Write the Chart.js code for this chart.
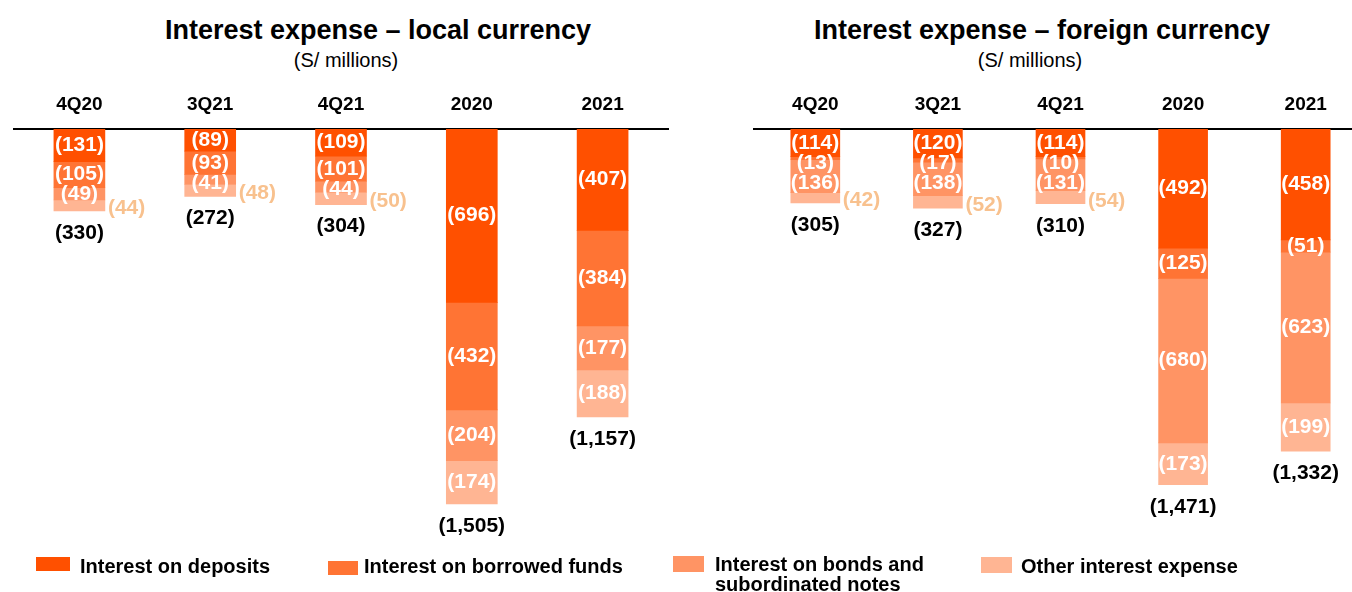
<!DOCTYPE html>
<html>
<head>
<meta charset="utf-8">
<script src="https://cdn.jsdelivr.net/npm/chart.js@4.4.0/dist/chart.umd.min.js"></script>
<style>
  html, body { margin: 0; padding: 0; background: #fff; overflow: hidden; }
  body { width: 1352px; height: 592px; position: relative; font-family: Arial, "Liberation Sans", sans-serif; color: #000; }
  .title { position: absolute; top: 15px; font-weight: bold; font-size: 27px; line-height: 30px; transform: translateX(-50%); white-space: nowrap; }
  .sub { position: absolute; top: 48px; font-size: 20px; line-height: 24px; transform: translateX(-50%); white-space: nowrap; }
  .box { position: absolute; top: 80px; height: 512px; }
  .sw { position: absolute; }
  .lt { position: absolute; font-weight: bold; font-size: 20px; line-height: 20px; white-space: nowrap; }
</style>
</head>
<body>
<div class="title" style="left:378px">Interest expense – local currency</div>
<div class="sub" style="left:346px">(S/ millions)</div>
<div class="title" style="left:1042px">Interest expense – foreign currency</div>
<div class="sub" style="left:1030px">(S/ millions)</div>

<div class="box" style="left:0px;width:680px"><canvas id="localChart" width="680" height="512"></canvas></div>
<div class="box" style="left:700px;width:670px"><canvas id="foreignChart" width="670" height="512"></canvas></div>

<div class="sw" style="left:36px;top:557px;width:34px;height:14px;background:#FF5000"></div>
<div class="lt" style="left:80px;top:556px">Interest on deposits</div>
<div class="sw" style="left:328px;top:561px;width:30px;height:14px;background:#FF7434"></div>
<div class="lt" style="left:364px;top:556px">Interest on borrowed funds</div>
<div class="sw" style="left:673px;top:556px;width:31px;height:16px;background:#FF9464"></div>
<div class="lt" style="left:715px;top:554px">Interest on bonds and<br>subordinated notes</div>
<div class="sw" style="left:981px;top:557px;width:31px;height:16px;background:#FFB593"></div>
<div class="lt" style="left:1021px;top:556px">Other interest expense</div>

<script>
const categories = ['4Q20', '3Q21', '4Q21', '2020', '2021'];
const seriesNames = ['Interest on deposits', 'Interest on borrowed funds', 'Interest on bonds and subordinated notes', 'Other interest expense'];
const seriesColors = ['#FF5000', '#FF7434', '#FF9464', '#FFB593'];

// local currency, S/ millions (shown as negatives)
const localDeposits = [-131, -89, -109, -696, -407];
const localBorrowed = [-105, -93, -101, -432, -384];
const localBonds = [-49, -41, -44, -204, -177];
const localOther = [-44, -48, -50, -174, -188];
const localTotals = [-330, -272, -304, -1505, -1157];

// foreign currency, S/ millions
const foreignDeposits = [-114, -120, -114, -492, -458];
const foreignBorrowed = [-13, -17, -10, -125, -51];
const foreignBonds = [-136, -138, -131, -680, -623];
const foreignOther = [-42, -52, -54, -173, -199];
const foreignTotals = [-305, -327, -310, -1471, -1332];

function fmt(v) {
    return '(' + Math.abs(v).toLocaleString('en-US') + ')';
}

const valueLabels = {
    id: 'valueLabels',
    afterDatasetsDraw(chart, args, opts) {
        const ctx = chart.ctx;
        const sets = chart.data.datasets;
        ctx.save();
        ctx.font = 'bold 21px Arial, "Liberation Sans", sans-serif';
        ctx.textBaseline = 'middle';
        chart.data.labels.forEach((lab, i) => {
            let prevY = -Infinity;
            let bottom = 0;
            let bar = null;
            sets.forEach((ds, d) => {
                bar = chart.getDatasetMeta(d).data[i];
                const top = Math.min(bar.y, bar.base);
                const bot = Math.max(bar.y, bar.base);
                bottom = Math.max(bottom, bot);
                const txt = fmt(ds.data[i]);
                if (d === sets.length - 1 && bot - top < 20) {
                    // small last segment: label sits outside, to the right
                    ctx.textAlign = 'left';
                    ctx.fillStyle = '#F8C18E';
                    ctx.fillText(txt, bar.x + bar.width / 2 + 3, bot - 3);
                } else {
                    let y = Math.max((top + bot) / 2, prevY + 20);
                    prevY = y;
                    ctx.textAlign = 'center';
                    ctx.fillStyle = '#fff';
                    ctx.fillText(txt, bar.x, y);
                }
            });
            ctx.textAlign = 'center';
            ctx.fillStyle = '#000';
            ctx.fillText(fmt(opts.totals[i]), bar.x, bottom + 22);
        });
        ctx.restore();
    }
};

function makeChart(id, series, totals, yMin, thickness, padLeft, padRight) {
    const ctx = document.getElementById(id).getContext('2d');
    return new Chart(ctx, {
        type: 'bar',
        data: {
            labels: categories,
            datasets: series.map((s, k) => ({
                label: seriesNames[k],
                data: s,
                backgroundColor: seriesColors[k],
                borderWidth: 0,
                barThickness: thickness
            }))
        },
        options: {
            responsive: false,
            animation: false,
            devicePixelRatio: 1,
            layout: { padding: { left: padLeft, right: padRight, top: 0, bottom: 30 } },
            plugins: {
                legend: { display: false },
                tooltip: { enabled: false },
                valueLabels: { totals: totals }
            },
            scales: {
                x: {
                    position: 'top',
                    stacked: true,
                    grid: { display: false, drawTicks: false },
                    border: { display: true, color: '#000', width: 2 },
                    ticks: {
                        color: '#000',
                        padding: 13,
                        font: { family: 'Arial, "Liberation Sans", sans-serif', size: 19, weight: 'bold' }
                    },
                    afterFit(scale) { scale.height = 49; }
                },
                y: {
                    stacked: true,
                    display: false,
                    min: yMin,
                    max: 0
                }
            }
        },
        plugins: [valueLabels]
    });
}

makeChart('localChart', [localDeposits, localBorrowed, localBonds, localOther], localTotals, -1739, 51, 14, 12);
makeChart('foreignChart', [foreignDeposits, foreignBorrowed, foreignBonds, foreignOther], foreignTotals, -1789, 49, 54, 3);
</script>
</body>
</html>
